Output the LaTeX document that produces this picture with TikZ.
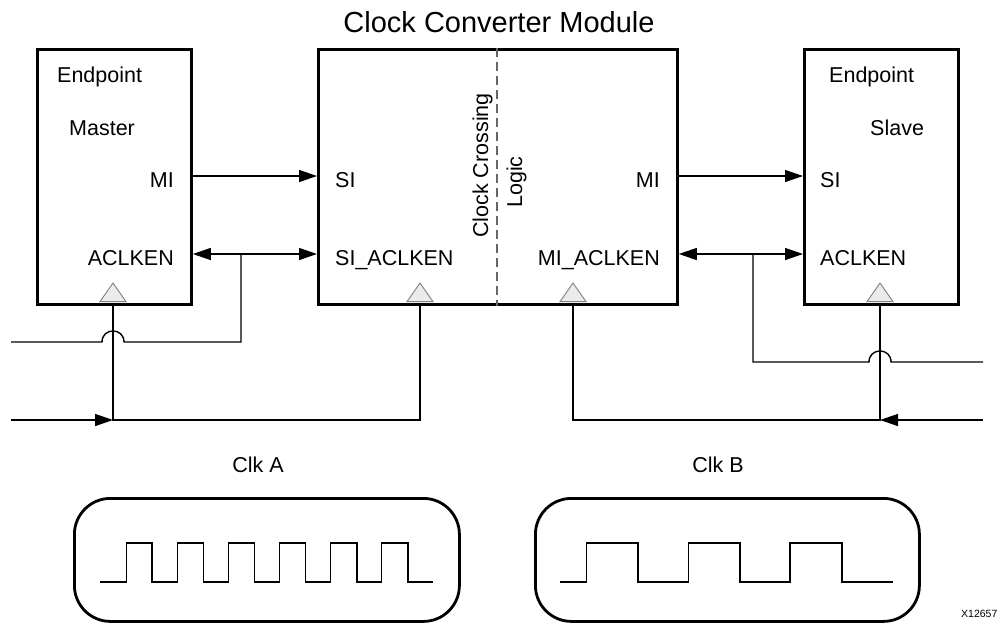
\documentclass[tikz,border=0pt]{standalone}
\usepackage{fontspec}
\setmainfont{Liberation Sans}
\usetikzlibrary{arrows.meta}
\begin{document}
\begin{tikzpicture}[x=1pt,y=-1pt,
  blk/.style={draw,line width=2.8pt,minimum width=#1,minimum height=255pt,anchor=north west,inner sep=0pt},
  lbl/.style={font=\fontsize{21.5}{24}\selectfont,inner sep=0pt},
  sig/.style={line width=1.4pt},
  tip/.tip={Triangle[length=18pt,width=12pt]},
  ckt/.style={draw=black!50,fill=black!8,line width=0.9pt},
  wave/.style={line width=1.4pt},
  clkbox/.style={draw,line width=2.8pt,rounded corners=36pt,minimum height=123pt,anchor=north west,inner sep=0pt},
  dsh/.style={draw=black!60,line width=1.3pt,dash pattern=on 9pt off 5pt}]
\useasboundingbox (0,0) rectangle (1000,622);

% title
\node[font=\fontsize{29}{33}\selectfont,inner sep=0pt] (title) at (499,22) {Clock Converter Module};

% clock input triangles (drawn under boxes)
\foreach \x/\n in {113/tM,420/tS,573/tMI,880/tSl}{
  \draw[ckt] (\x-13,301.6) -- (\x,283) -- (\x+13,301.6) -- cycle;
  \coordinate (\n) at (\x,303);
}

% boxes
\node[blk=154pt] (master) at (36,48) {};
\node[blk=359pt] (ccm) at (317,48) {};
\node[blk=154pt] (slave) at (803,48) {};

% dashed separator
\coordinate (dv) at (497,0);
\draw[dsh] (ccm.north -| dv) -- (ccm.south -| dv);

% labels
\node[lbl,anchor=base west] (mEp) at (57,82) {Endpoint};
\node[lbl,anchor=base west] (mMa) at (69,135) {Master};
\node[lbl,anchor=base east] (mMI) at (174,187) {MI};
\node[lbl,anchor=base east] (mEN) at (174,265) {ACLKEN};
\node[lbl,anchor=base west] (cSI) at (335,187) {SI};
\node[lbl,anchor=base west] (cSIE) at (335,265) {SI\_ACLKEN};
\node[lbl,anchor=base east] (cMI) at (660,187) {MI};
\node[lbl,anchor=base east] (cMIE) at (660,265) {MI\_ACLKEN};
\node[lbl,anchor=base west] (sEp) at (829,82) {Endpoint};
\node[lbl,anchor=base west] (sSl) at (870,135) {Slave};
\node[lbl,anchor=base west] (sSI) at (820,187) {SI};
\node[lbl,anchor=base west] (sEN) at (820,265) {ACLKEN};
\node[lbl,rotate=90,anchor=base west] (ccl1) at (488,238) {Clock Crossing};
\node[lbl,rotate=90,anchor=base west] (ccl2) at (522,208) {Logic};

% helper coordinates
\coordinate (yMI) at (0,176);
\coordinate (yEN) at (0,254);
\coordinate (yA) at (0,342);
\coordinate (yC) at (0,362);
\coordinate (yB) at (0,420);
\coordinate (L) at (11,0);
\coordinate (R) at (983,0);
\coordinate (brL) at (241,254);
\coordinate (brR) at (753,254);

% data and enable connectors
\draw[sig,-tip] (master.east |- yMI) -- (ccm.west |- yMI);
\draw[sig,tip-tip] (master.east |- yEN) -- (ccm.west |- yEN);
\draw[sig,-tip] (ccm.east |- yMI) -- (slave.west |- yMI);
\draw[sig,tip-tip] (ccm.east |- yEN) -- (slave.west |- yEN);

% left clock and enable
\draw[sig,-tip] (L |- yB) -- (tM |- yB);
\draw[sig] (tM) -- (tM |- yB) -- (tS |- yB) -- (tS);
\draw[sig] (L |- yA) -- (102,342) .. controls (102,327.3) and (124,327.3) .. (124,342) -- (brL |- yA) -- (brL);

% right clock and enable
\draw[sig,-tip] (R |- yB) -- (tSl |- yB);
\draw[sig] (tMI) -- (tMI |- yB) -- (tSl |- yB) -- (tSl);
\draw[sig] (brR) -- (brR |- yC) -- (869,362) .. controls (869,347.3) and (891,347.3) .. (891,362) -- (R |- yC);

% clock waveforms
\node[lbl] (clkA) at (258,465) {Clk A};
\node[lbl] (clkB) at (718,465) {Clk B};
\node[clkbox,minimum width=385pt] (ckA) at (73,497) {};
\node[clkbox,minimum width=384pt] (ckB) at (534,497) {};
\draw[wave] (100,582) \foreach \k in {0,...,5}{ -- ({126.7+51*\k},582) -- ({126.7+51*\k},543) -- ({152+51.2*\k},543) -- ({152+51.2*\k},582)} -- (433,582);
\draw[wave] (560,582) \foreach \k in {0,1,2}{ -- ({586.5+101.7*\k},582) -- ({586.5+101.7*\k},543) -- ({638+101.9*\k},543) -- ({638+101.9*\k},582)} -- (893,582);

\node[font=\fontsize{10.5}{12}\selectfont,anchor=base west,inner sep=0pt] (xid) at (961,617) {X12657};
\end{tikzpicture}
\end{document}
